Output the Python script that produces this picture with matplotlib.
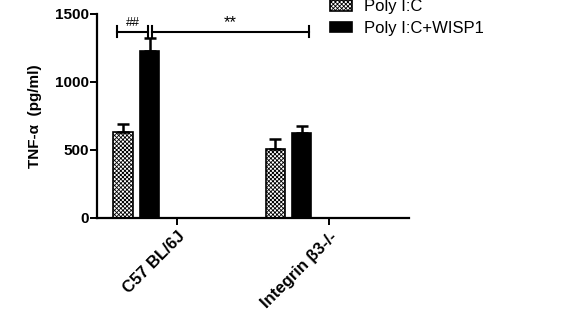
import matplotlib
matplotlib.use('Agg')
import matplotlib.pyplot as plt
import numpy as np

plt.rcParams['font.family'] = ['Liberation Sans', 'DejaVu Sans']
plt.rcParams['hatch.linewidth'] = 0.6
plt.rcParams['hatch.color'] = '#555555'

# 데이터
groups = ['C57 BL/6J', 'Integrin β3-/-']
series = ['Poly I:C', 'Poly I:C+WISP1']
means_polyic = [635, 505]
means_wisp1 = [1225, 625]
err_polyic = [55, 75]
err_wisp1 = [95, 50]

fig = plt.figure(figsize=(5.62, 3.28), dpi=100)
ax = fig.add_axes([0.1726, 0.3354, 0.5552, 0.6220])

x = np.arange(len(groups))
w = 0.125
b1 = ax.bar(x - 0.355, means_polyic, w, color='white', edgecolor='black',
            linewidth=1.2, hatch='xxxxxxxx', label=series[0])
b2 = ax.bar(x - 0.178, means_wisp1, w, color='black', edgecolor='black',
            linewidth=1.2, label=series[1])
ax.errorbar(x - 0.355, means_polyic, yerr=[[0, 0], err_polyic], fmt='none',
            ecolor='black', elinewidth=1.8, capsize=4, capthick=1.8)
ax.errorbar(x - 0.178, means_wisp1, yerr=[[0, 0], err_wisp1], fmt='none',
            ecolor='black', elinewidth=1.8, capsize=4, capthick=1.8)

# 유의성 표시
ys = 1368
cap = 40
ax.plot([-0.395, -0.19], [ys, ys], color='black', lw=1.5)
ax.plot([-0.395, -0.395], [ys - cap, ys + cap], color='black', lw=1.5)
ax.plot([-0.19, -0.19], [ys - cap, ys + cap], color='black', lw=1.5)
ax.text(-0.29, ys + 25, '##', ha='center', va='bottom', fontsize=9)
ax.plot([-0.165, 0.868], [ys, ys], color='black', lw=1.5)
ax.plot([-0.165, -0.165], [ys - cap, ys + cap], color='black', lw=1.5)
ax.plot([0.868, 0.868], [ys - cap, ys + cap], color='black', lw=1.5)
ax.text(0.35, ys + 15, '**', ha='center', va='bottom', fontsize=12)

ax.set_xlim(-0.526, 1.526)
ax.set_ylim(0, 1500)
ax.set_yticks([0, 500, 1000, 1500])
ax.set_xticks(x)
ax.set_xticklabels(groups, rotation=45, ha='right', rotation_mode='anchor',
                   fontweight='bold', fontsize=12)
for lbl in ax.get_yticklabels():
    lbl.set_fontweight('bold')
    lbl.set_fontsize(11)
ax.set_ylabel('TNF-α  (pg/ml)', fontweight='bold', fontsize=11, labelpad=9)
ax.spines['top'].set_visible(False)
ax.spines['right'].set_visible(False)
ax.spines['left'].set_linewidth(1.6)
ax.spines['bottom'].set_linewidth(1.6)
ax.tick_params(axis='both', width=1.4, length=5, pad=1)
ax.tick_params(axis='x', pad=3)

fig.legend(handles=[b1, b2], labels=series, loc='upper left',
           bbox_to_anchor=(0.587, 1.002), frameon=False, fontsize=12,
           handlelength=1.3, handleheight=0.6, labelspacing=0.4,
           handletextpad=0.75, borderaxespad=0, borderpad=0)

fig.savefig('out.png', dpi=100)
